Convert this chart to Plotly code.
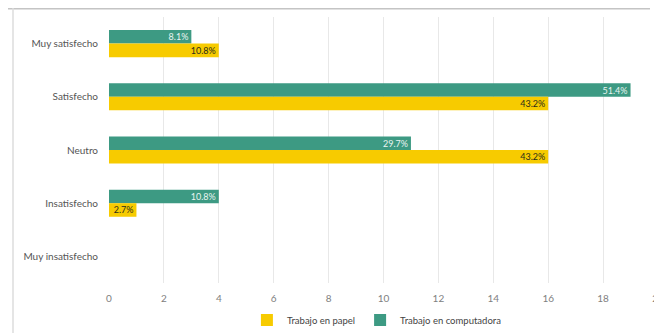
import plotly.graph_objects as go

categories = ["Muy satisfecho", "Satisfecho", "Neutro", "Insatisfecho", "Muy insatisfecho"]
papel = [4, 16, 16, 1, 0]
computadora = [3, 19, 11, 4, 0]
total = 37
x_ticks = [0, 2, 4, 6, 8, 10, 12, 14, 16, 18, 20]

def labels(vals):
    return [f"{v / total * 100:.1f}%" if v > 0 else "" for v in vals]

GREEN = "#3d9a83"
YELLOW = "#f7cb00"
FONT = "Lato"

# page body has an 8px margin: figure sits at (8, 8) in the window
W, H = 654, 325
L, R, T, B = 101, 4, 9, 50
PW = W - L - R
PH = H - T - B

fig = go.Figure()
fig.add_trace(go.Bar(
    y=categories, x=computadora, orientation="h", name="Trabajo en computadora",
    marker=dict(color=GREEN, line=dict(width=0)),
    text=labels(computadora), textposition="inside", insidetextanchor="end",
    textfont=dict(color="#eaf5f1", size=9, family=FONT), constraintext="none",
    legendrank=2,
))
fig.add_trace(go.Bar(
    y=categories, x=papel, orientation="h", name="Trabajo en papel",
    marker=dict(color=YELLOW, line=dict(width=0)),
    text=labels(papel), textposition="inside", insidetextanchor="end",
    textfont=dict(color="#2b2b1a", size=9, family=FONT), constraintext="none",
    legendrank=1,
))

fig.update_layout(
    width=W, height=H,
    margin=dict(l=L, r=R, t=T, b=B, autoexpand=False),
    paper_bgcolor="white", plot_bgcolor="white",
    barmode="group", bargap=0.49, bargroupgap=0,
    font=dict(family=FONT, size=10, color="#555555"),
    showlegend=True,
    legend=dict(orientation="h", x=0.488, xanchor="center", y=-0.139, yanchor="middle",
                font=dict(size=9.5, color="#444444"), itemwidth=30,
                traceorder="normal"),
    xaxis=dict(range=[0, 20], tickvals=x_ticks, showgrid=True, gridcolor="#e8e8e8",
               gridwidth=1, zeroline=False, showline=False, automargin=False,
               ticklabeloverflow="allow",
               tickfont=dict(size=10, color="#808080"), ticks="", ticklabelstandoff=8),
    yaxis=dict(autorange="reversed", showgrid=False, zeroline=False, showline=False,
               automargin=False,
               tickfont=dict(size=10, color="#555555"), ticks="", ticklabelstandoff=10),
    shapes=[
        dict(type="line", xref="paper", yref="paper",
             x0=-L / PW, x1=(642 - L) / PW, y0=(PH + T - 0.8) / PH, y1=(PH + T - 0.8) / PH,
             line=dict(color="#c4c4c4", width=1.5)),
        dict(type="line", xref="paper", yref="paper",
             x0=(5 - L) / PW, x1=(5 - L) / PW, y0=(PH + T) / PH, y1=-B / PH,
             line=dict(color="#dcdcdc", width=1.5)),
    ],
)

fig.write_html("out.html")
